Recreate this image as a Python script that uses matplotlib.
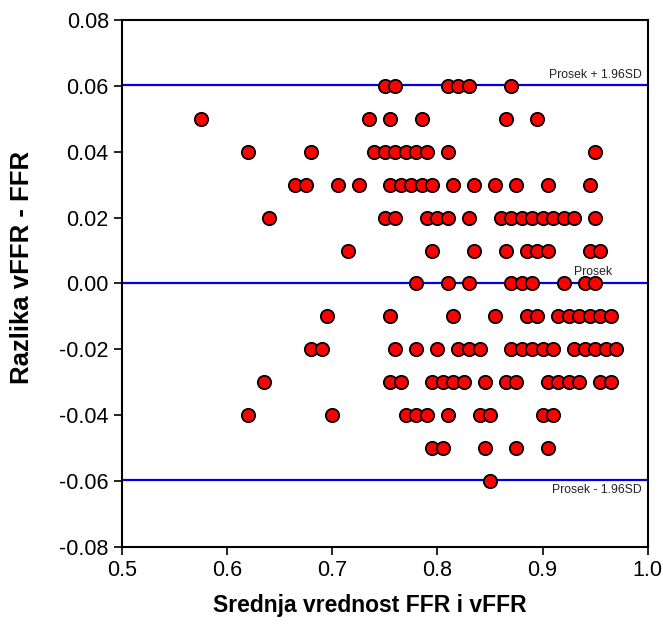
import matplotlib
matplotlib.use("Agg")
import matplotlib.pyplot as plt
import numpy as np

plt.rcParams['font.family'] = ['Liberation Sans', 'DejaVu Sans']

# mean of FFR and vFFR for each difference level (vFFR - FFR)
diff_levels = [0.06, 0.05, 0.04, 0.03, 0.02, 0.01, 0.00,
               -0.01, -0.02, -0.03, -0.04, -0.05, -0.06]
means_by_level = [
    [0.75, 0.76, 0.81, 0.82, 0.83, 0.87],
    [0.575, 0.735, 0.755, 0.785, 0.865, 0.895],
    [0.62, 0.68, 0.74, 0.75, 0.76, 0.77, 0.78, 0.79, 0.81, 0.95],
    [0.665, 0.675, 0.705, 0.725, 0.755, 0.765, 0.775, 0.785, 0.795, 0.815,
     0.835, 0.855, 0.875, 0.905, 0.945],
    [0.64, 0.75, 0.76, 0.79, 0.80, 0.81, 0.83, 0.86, 0.87, 0.88, 0.89, 0.90,
     0.91, 0.92, 0.93, 0.95],
    [0.715, 0.795, 0.835, 0.865, 0.885, 0.895, 0.905, 0.945, 0.955],
    [0.78, 0.81, 0.83, 0.87, 0.88, 0.89, 0.92, 0.94, 0.95],
    [0.695, 0.755, 0.815, 0.855, 0.885, 0.895, 0.915, 0.925, 0.935, 0.945,
     0.955, 0.965],
    [0.68, 0.69, 0.76, 0.78, 0.80, 0.82, 0.83, 0.84, 0.87, 0.88, 0.89, 0.90,
     0.91, 0.93, 0.94, 0.95, 0.96, 0.97],
    [0.635, 0.755, 0.765, 0.795, 0.805, 0.815, 0.825, 0.845, 0.865, 0.875,
     0.905, 0.915, 0.925, 0.935, 0.955, 0.965],
    [0.62, 0.70, 0.77, 0.78, 0.79, 0.81, 0.84, 0.85, 0.90, 0.91],
    [0.795, 0.805, 0.845, 0.875, 0.905],
    [0.85],
]

mean_diff = 0.0003
upper_loa = 0.0603
lower_loa = -0.0597

x = np.concatenate([np.array(m) for m in means_by_level])
y = np.concatenate([np.full(len(m), d) for m, d in zip(means_by_level, diff_levels)])

fig = plt.figure(figsize=(6.63, 6.37), dpi=100)
ax = fig.add_axes([0.184, 0.1413, 0.793, 0.8273])

for yv in (upper_loa, mean_diff, lower_loa):
    ax.axhline(yv, color='#0000e6', lw=1.6, zorder=1)

ax.scatter(x, y, s=92, c='#ff0000', edgecolors='black', linewidths=1.3, zorder=3)

ax.text(0.994, upper_loa + 0.0013, 'Prosek + 1.96SD', ha='right', va='bottom',
        fontsize=8.8, color='#222222')
ax.text(0.948, mean_diff + 0.0013, 'Prosek', ha='center', va='bottom',
        fontsize=8.8, color='#222222')
ax.text(0.994, lower_loa - 0.0013, 'Prosek - 1.96SD', ha='right', va='top',
        fontsize=8.8, color='#222222')

ax.set_xlim(0.5, 1.0)
ax.set_ylim(-0.08, 0.08)
ax.set_xticks([0.5, 0.6, 0.7, 0.8, 0.9, 1.0])
ax.set_xticklabels(['0.5', '0.6', '0.7', '0.8', '0.9', '1.0'])
ax.set_yticks(np.arange(-0.08, 0.0801, 0.02))
ax.set_yticklabels(['-0.08', '-0.06', '-0.04', '-0.02', '0.00', '0.02',
                    '0.04', '0.06', '0.08'])
ax.tick_params(direction='out', length=6, width=1.2, labelsize=15.5, colors='black')
for sp in ax.spines.values():
    sp.set_linewidth(1.5)

ax.set_xlabel('Srednja vrednost FFR i vFFR', fontsize=16.5, fontweight='bold')
ax.set_ylabel('Razlika vFFR - FFR', fontsize=18.5, fontweight='bold')
# label centres (pixels -> axes fraction)
ax.xaxis.set_label_coords((370 - 122) / 526, (547 - 606) / 527, transform=ax.transAxes)
ax.yaxis.set_label_coords((22 - 122) / 526, (547 - 267) / 527, transform=ax.transAxes)
ax.xaxis.label.set_va('center')
ax.yaxis.label.set_va('center')

fig.savefig('out.png', dpi=100)
